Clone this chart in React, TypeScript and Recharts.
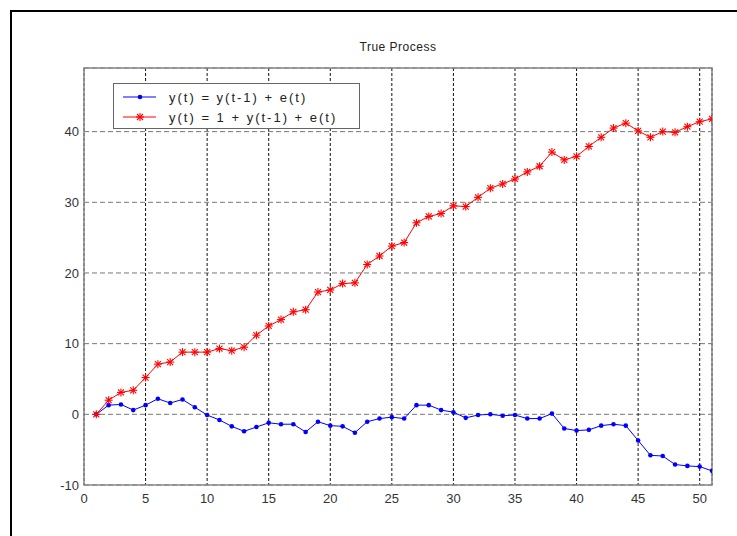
import {
  LineChart,
  Line,
  XAxis,
  YAxis,
  CartesianGrid,
  ReferenceArea,
} from 'recharts';

const steps = [
  1, 2, 3, 4, 5, 6, 7, 8, 9, 10, 11, 12, 13, 14, 15, 16, 17, 18, 19, 20, 21, 22, 23, 24, 25, 26,
  27, 28, 29, 30, 31, 32, 33, 34, 35, 36, 37, 38, 39, 40, 41, 42, 43, 44, 45, 46, 47, 48, 49, 50, 51,
];

const randomWalk = [
  0, 1.3, 1.4, 0.6, 1.3, 2.2, 1.6, 2.1, 1.0, -0.1, -0.8, -1.7, -2.4, -1.8, -1.2, -1.4, -1.4, -2.5,
  -1.05, -1.6, -1.7, -2.6, -1.05, -0.6, -0.4, -0.6, 1.3, 1.3, 0.6, 0.3, -0.5, -0.1, 0, -0.2, -0.1,
  -0.6, -0.6, 0.1, -2.0, -2.3, -2.2, -1.6, -1.4, -1.6, -3.7, -5.8, -5.9, -7.1, -7.3, -7.4, -8.0,
];

const withDrift = [
  0, 2.0, 3.1, 3.4, 5.2, 7.1, 7.4, 8.8, 8.8, 8.8, 9.3, 9.0, 9.5, 11.2, 12.5, 13.4, 14.5, 14.8, 17.3,
  17.6, 18.5, 18.6, 21.2, 22.4, 23.8, 24.3, 27.1, 28.0, 28.4, 29.5, 29.4, 30.7, 32.0, 32.6, 33.3,
  34.3, 35.1, 37.1, 36.0, 36.5, 37.9, 39.2, 40.5, 41.2, 40.1, 39.2, 40.0, 39.9, 40.7, 41.4, 41.8,
];

const xTicks = [0, 5, 10, 15, 20, 25, 30, 35, 40, 45, 50];
const yTicks = [-10, 0, 10, 20, 30, 40];

const labels = ['y(t) = y(t-1) + e(t)', 'y(t) = 1 + y(t-1) + e(t)'];

const data = steps.map((t, i) => ({ t, a: randomWalk[i], b: withDrift[i] }));

const FONT = '"Liberation Sans", Arial, sans-serif';

function DotMark(props: any) {
  const { cx, cy } = props;
  if (cx == null || cy == null) return null;
  return <circle cx={cx} cy={cy} r={2.3} fill="#0000ff" stroke="none" />;
}

function StarMark(props: any) {
  const { cx, cy } = props;
  if (cx == null || cy == null) return null;
  const s = 4;
  const d = 3;
  return (
    <g stroke="#ff0000" strokeWidth={1.1}>
      <line x1={cx - s} y1={cy} x2={cx + s} y2={cy} />
      <line x1={cx} y1={cy - s} x2={cx} y2={cy + s} />
      <line x1={cx - d} y1={cy - d} x2={cx + d} y2={cy + d} />
      <line x1={cx - d} y1={cy + d} x2={cx + d} y2={cy - d} />
    </g>
  );
}

// MATLAB style legend box, top-left inside the axes
function LegendBox() {
  const rows = [
    { label: labels[0], color: '#0000ff', Mark: DotMark },
    { label: labels[1], color: '#ff0000', Mark: StarMark },
  ];
  return (
    <div
      style={{
        position: 'absolute',
        left: 113,
        top: 83,
        width: 245,
        height: 44,
        border: '1px solid #666',
        background: '#fff',
        fontFamily: FONT,
        fontSize: 13,
        letterSpacing: 2,
        color: '#222',
        whiteSpace: 'nowrap',
      }}
    >
      {rows.map((r, i) => (
        <div key={i} style={{ display: 'flex', alignItems: 'center', height: 20, marginTop: i === 0 ? 3 : 0 }}>
          <svg width={50} height={20}>
            <line x1={9} y1={10} x2={42} y2={10} stroke={r.color} strokeWidth={1} />
            <r.Mark cx={26} cy={10} />
          </svg>
          <span style={{ marginLeft: 5 }}>{r.label}</span>
        </div>
      ))}
    </div>
  );
}

export default function App() {
  return (
    <div style={{ position: 'absolute', left: 0, top: 0, width: 737, height: 536, background: '#fff', overflow: 'hidden' }}>
      {/* outer figure frame */}
      <div
        style={{
          position: 'absolute',
          left: 10,
          top: 10,
          width: 740,
          height: 540,
          borderTop: '2px solid #000',
          borderLeft: '2px solid #000',
        }}
      />
      <div
        style={{
          position: 'absolute',
          left: 84,
          width: 628,
          top: 40,
          textAlign: 'center',
          fontFamily: FONT,
          fontSize: 12,
          letterSpacing: 0.5,
          color: '#222',
        }}
      >
        True Process
      </div>
      <div style={{ position: 'absolute', left: 0, top: 0 }}>
        <LineChart width={737} height={536} data={data} margin={{ top: 68, right: 25, bottom: 21, left: 44 }}>
          <CartesianGrid vertical={false} stroke="#777" strokeDasharray="5 3" />
          <CartesianGrid horizontal={false} stroke="#111" strokeDasharray="3 2" />
          <XAxis
            dataKey="t"
            type="number"
            domain={[0, 51]}
            ticks={xTicks}
            allowDataOverflow
            height={30}
            tickSize={0}
            tickMargin={9}
            axisLine={false}
            tickLine={false}
            tick={{ fill: '#333', fontSize: 13, fontFamily: FONT }}
          />
          <YAxis
            type="number"
            domain={[-10, 49]}
            ticks={yTicks}
            allowDataOverflow
            width={40}
            tickSize={0}
            tickMargin={5}
            axisLine={false}
            tickLine={false}
            tick={{ fill: '#333', fontSize: 13, fontFamily: FONT }}
          />
          <ReferenceArea x1={0} x2={51} y1={-10} y2={49} fill="none" stroke="#888" strokeWidth={1.5} ifOverflow="visible" />
          <Line
            dataKey="a"
            name={labels[0]}
            stroke="#0000ff"
            strokeWidth={1}
            dot={<DotMark />}
            activeDot={false}
            isAnimationActive={false}
          />
          <Line
            dataKey="b"
            name={labels[1]}
            stroke="#ff0000"
            strokeWidth={1}
            dot={<StarMark />}
            activeDot={false}
            isAnimationActive={false}
          />
        </LineChart>
      </div>
      <LegendBox />
    </div>
  );
}
